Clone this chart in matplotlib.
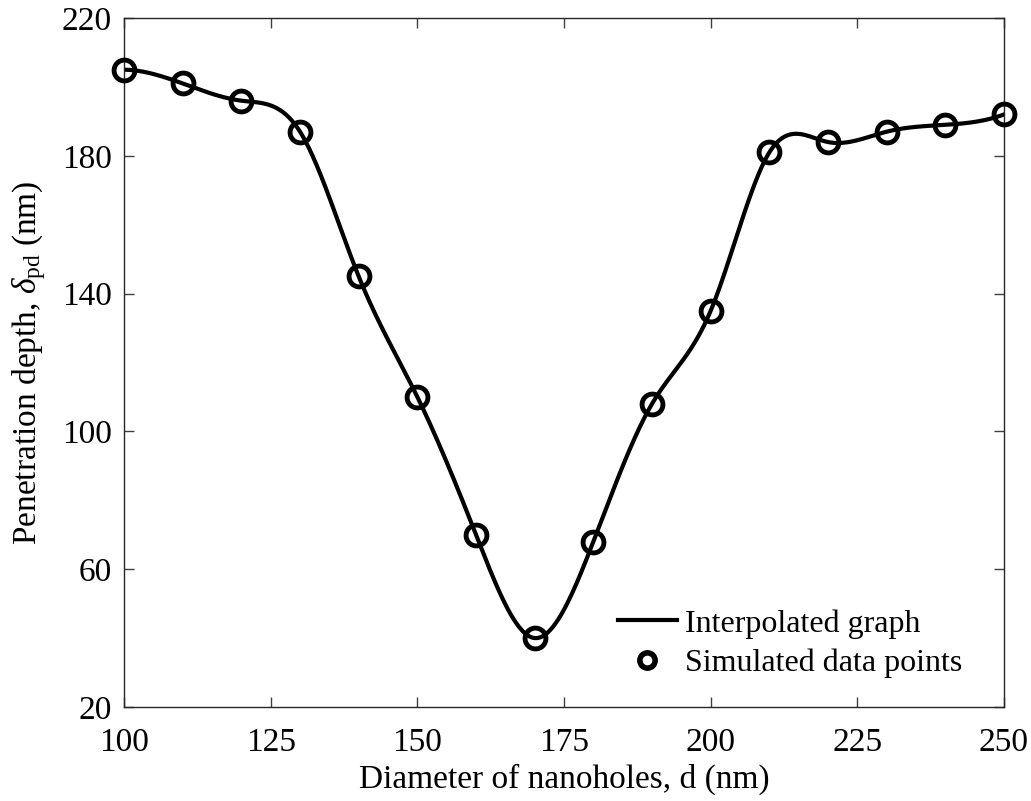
import numpy as np
import matplotlib
matplotlib.use("Agg")
import matplotlib.pyplot as plt

plt.rcParams['font.family'] = ['Liberation Serif', 'DejaVu Serif']
plt.rcParams['mathtext.fontset'] = 'custom'
plt.rcParams['mathtext.rm'] = 'Liberation Serif'
plt.rcParams['mathtext.it'] = 'Liberation Serif:italic'

# simulated results
diameter = [100, 110, 120, 130, 140, 150, 160, 170, 180, 190, 200, 210, 220, 230, 240, 250]
depth = [205, 201, 196, 187, 145, 110, 70, 40, 68, 108, 135, 181, 184, 187, 189, 192]

xticks = [100, 125, 150, 175, 200, 225, 250]
yticks = [20, 60, 100, 140, 180, 220]


def spline(x, y, xq):
	# cubic spline with not-a-knot ends
	x = np.asarray(x, float)
	y = np.asarray(y, float)
	n = len(x)
	h = np.diff(x)
	A = np.zeros((n, n))
	b = np.zeros(n)
	A[0, 0] = h[1]
	A[0, 1] = -(h[0] + h[1])
	A[0, 2] = h[0]
	for i in range(1, n - 1):
		A[i, i - 1] = h[i - 1]
		A[i, i] = 2 * (h[i - 1] + h[i])
		A[i, i + 1] = h[i]
		b[i] = 6 * ((y[i + 1] - y[i]) / h[i] - (y[i] - y[i - 1]) / h[i - 1])
	A[-1, -3] = h[-1]
	A[-1, -2] = -(h[-2] + h[-1])
	A[-1, -1] = h[-2]
	M = np.linalg.solve(A, b)
	k = np.clip(np.searchsorted(x, xq) - 1, 0, n - 2)
	hk = h[k]
	a = x[k + 1] - xq
	c = xq - x[k]
	return (M[k] * a**3 / (6 * hk) + M[k + 1] * c**3 / (6 * hk)
		+ (y[k] / hk - M[k] * hk / 6) * a + (y[k + 1] / hk - M[k + 1] * hk / 6) * c)


xs = np.linspace(diameter[0], diameter[-1], 600)
ys = spline(diameter, depth, xs)

fig = plt.figure(figsize=(10.31, 8.01), dpi=100)
ax = fig.add_axes([0.1203, 0.1174, 0.8535, 0.8601])

ax.plot(xs, ys, color='black', lw=3, label='Interpolated graph', zorder=2)
ax.plot(diameter, depth, 'o', ms=15, mfc='none', mec='black', mew=3.5,
	label='Simulated data points', zorder=3, clip_on=False)

ax.set_xlim(100, 250)
ax.set_ylim(20, 220)
ax.set_xticks(xticks)
ax.set_yticks(yticks)
ax.tick_params(direction='in', length=7, width=1, color='#404040', labelsize=24,
	top=True, right=True)
ax.tick_params(axis='x', pad=15)
ax.tick_params(axis='y', pad=9)
for s in ax.spines.values():
	s.set_linewidth(1)
	s.set_color('#262626')

ax.set_xlabel('Diameter of nanoholes, d (nm)', fontsize=24, labelpad=4)
ax.set_ylabel(r'Penetration depth, $\mathit{\delta}_{\rm pd}$ (nm)', fontsize=24, labelpad=10)

leg = ax.legend(loc='upper left', frameon=False, fontsize=23, handlelength=1.85,
	handletextpad=0.25, labelspacing=0.3, borderpad=0, borderaxespad=0,
	bbox_to_anchor=(0.561, 0.142))
leg.legend_handles[1].set_markersize(11)
leg.legend_handles[1].set_markeredgewidth(4)

fig.savefig('out.png', dpi=100)
